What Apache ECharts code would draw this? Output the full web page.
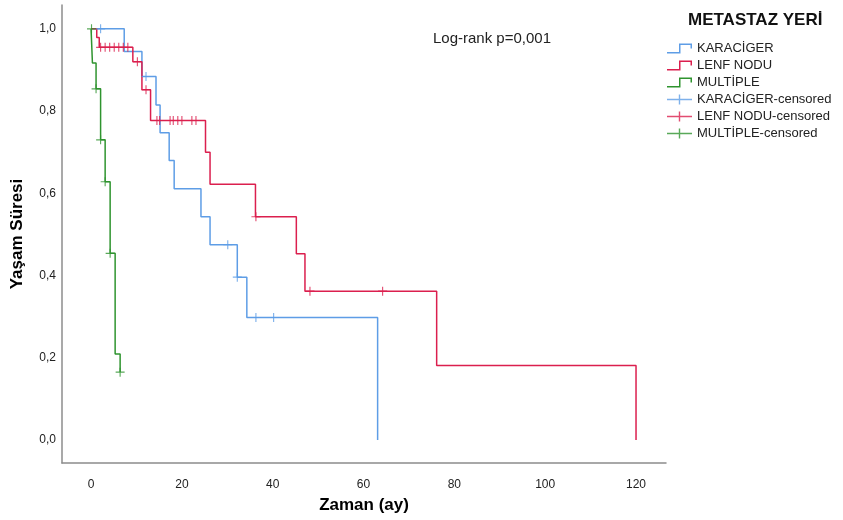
<!doctype html>
<html>
<head>
    <meta charset="utf-8">
    <title>Kaplan-Meier</title>
    <script src="https://cdn.jsdelivr.net/npm/echarts@6/dist/echarts.min.js"></script>
    <style>
        body{
            margin:0;
            padding:0;
            background:#fff;
        }
        #main{
            width:843px;
            height:520px;
        }
    </style>
</head>
<body>
<div id="main"></div>
<script>
    // x ekseni etiketleri, y ekseni etiketleri
    var xTicks = [0, 20, 40, 60, 80, 100, 120];
    var yTicks = [0, 0.2, 0.4, 0.6, 0.8, 1];

    // KARACİGER
    var karTime = [0, 7.3, 11.2, 14.3, 15.2, 17.2, 18.3, 24.2, 26.2, 32.2, 34.3, 63.1];
    var karSurv = [1, 0.945, 0.884, 0.815, 0.747, 0.68, 0.611, 0.543, 0.475, 0.396, 0.298, 0];
    var karCensTime = [2.1, 12.1, 30.1, 32.2, 36.3, 40.2];
    var karCensSurv = [1, 0.884, 0.475, 0.396, 0.298, 0.298];

    // LENF NODU
    var lenfTime = [0, 1.25, 1.8, 9.2, 11.2, 13.1, 25.2, 26.2, 36.2, 45.2, 47.1, 76.1, 120];
    var lenfSurv = [1, 0.979, 0.955, 0.92, 0.852, 0.777, 0.70, 0.622, 0.543, 0.453, 0.362, 0.181, 0];
    var lenfCensTime = [2.1, 3.1, 4.1, 5.1, 6.1, 7.1, 8.1, 10.2, 12.1, 14.5, 15.1, 17.4, 18.1, 19.1, 20, 22.2, 23.1, 36.3, 48.2, 64.2];
    var lenfCensSurv = [0.955, 0.955, 0.955, 0.955, 0.955, 0.955, 0.955, 0.92, 0.852, 0.777, 0.777, 0.777, 0.777, 0.777, 0.777, 0.777, 0.777, 0.543, 0.362, 0.362];

    // MULTİPLE
    var mulTime = [0, 0.3, 1.1, 2.1, 3.1, 4.2, 5.3, 6.4];
    var mulSurv = [1, 0.917, 0.854, 0.73, 0.628, 0.454, 0.209, 0.165];
    var mulCensTime = [0.1, 1.1, 2.1, 3.1, 4.2, 6.4];
    var mulCensSurv = [1, 0.854, 0.73, 0.628, 0.454, 0.165];

    var names = ['KARACİGER', 'LENF NODU', 'MULTİPLE'];
    var colors = ['#5e9de6', '#db1f4e', '#2f942f'];

    var stepIcon = 'path://M0,8.5 L12,8.5 L12,0 L25,0 L25,5 L23.5,5 L23.5,1.5 L13.5,1.5 L13.5,10 L0,10 Z';
    var crossIcon = 'path://M0,4.3 L25,4.3 L25,5.7 L0,5.7 Z M11.8,0 L13.2,0 L13.2,10 L11.8,10 Z';
    var plusMark = 'path://M0,3.5 L8,3.5 L8,4.5 L0,4.5 Z M3.5,0 L4.5,0 L4.5,8 L3.5,8 Z';

    function pairs(xs, ys){
        var out = [];
        for (var i = 0; i < xs.length; i++) out.push([xs[i], ys[i]]);
        return out;
    }

    var lines = [pairs(karTime, karSurv), pairs(lenfTime, lenfSurv), pairs(mulTime, mulSurv)];
    var cens = [pairs(karCensTime, karCensSurv), pairs(lenfCensTime, lenfCensSurv), pairs(mulCensTime, mulCensSurv)];

    var series = [];
    var legendData = [];
    for (var i = 0; i < 3; i++) {
        series.push({
            name: names[i],
            type: 'line',
            step: 'end',
            showSymbol: false,
            data: lines[i],
            lineStyle: {color: colors[i], width: 1.5},
            itemStyle: {color: colors[i]},
            z: 2
        });
        legendData.push({name: names[i], icon: stepIcon, itemStyle: {color: colors[i]}});
    }
    for (var j = 0; j < 3; j++) {
        series.push({
            name: names[j] + '-censored',
            type: 'scatter',
            symbol: plusMark,
            symbolSize: 9,
            data: cens[j],
            itemStyle: {color: colors[j]},
            z: 3
        });
        legendData.push({name: names[j] + '-censored', icon: crossIcon, itemStyle: {color: colors[j]}});
    }

    var myChart = echarts.init(document.getElementById('main'));
    var option = {
        animation: false,
        textStyle: {fontFamily: 'Liberation Sans, Arial, sans-serif'},
        grid: {left: 62, right: 177, top: 5, bottom: 57},
        xAxis: {
            type: 'value',
            min: -6.4,
            max: 126.6,
            name: 'Zaman (ay)',
            nameLocation: 'middle',
            nameGap: 34,
            nameTextStyle: {fontSize: 17, fontWeight: 'bold', color: '#000'},
            axisLine: {onZero: false, lineStyle: {color: '#8c8c8c', width: 1.5}},
            axisTick: {show: false},
            splitLine: {show: false},
            axisLabel: {customValues: xTicks, margin: 16, fontSize: 12, color: '#222'}
        },
        yAxis: {
            type: 'value',
            min: -0.056,
            max: 1.058,
            name: 'Yaşam Süresi',
            nameLocation: 'middle',
            nameGap: 36,
            nameTextStyle: {fontSize: 17, fontWeight: 'bold', color: '#000'},
            axisLine: {show: true, onZero: false, lineStyle: {color: '#8c8c8c', width: 1.5}},
            axisTick: {show: false},
            splitLine: {show: false},
            axisLabel: {
                customValues: yTicks,
                margin: 6,
                fontSize: 12,
                color: '#222',
                formatter: function (v) { return v.toFixed(1).replace('.', ','); }
            }
        },
        legend: {
            orient: 'vertical',
            left: 662,
            top: 37,
            itemWidth: 25,
            itemHeight: 10,
            itemGap: 4,
            data: legendData,
            textStyle: {fontSize: 13, color: '#222'}
        },
        graphic: [
            {
                type: 'text',
                left: 688,
                top: 12,
                style: {text: 'METASTAZ YERİ', font: 'bold 17px Liberation Sans, Arial, sans-serif', fill: '#111'}
            },
            {
                type: 'text',
                left: 433,
                top: 31,
                style: {text: 'Log-rank p=0,001', font: '15px Liberation Sans, Arial, sans-serif', fill: '#222'}
            }
        ],
        series: series
    };
    myChart.setOption(option, true);
</script>
</body>
</html>
